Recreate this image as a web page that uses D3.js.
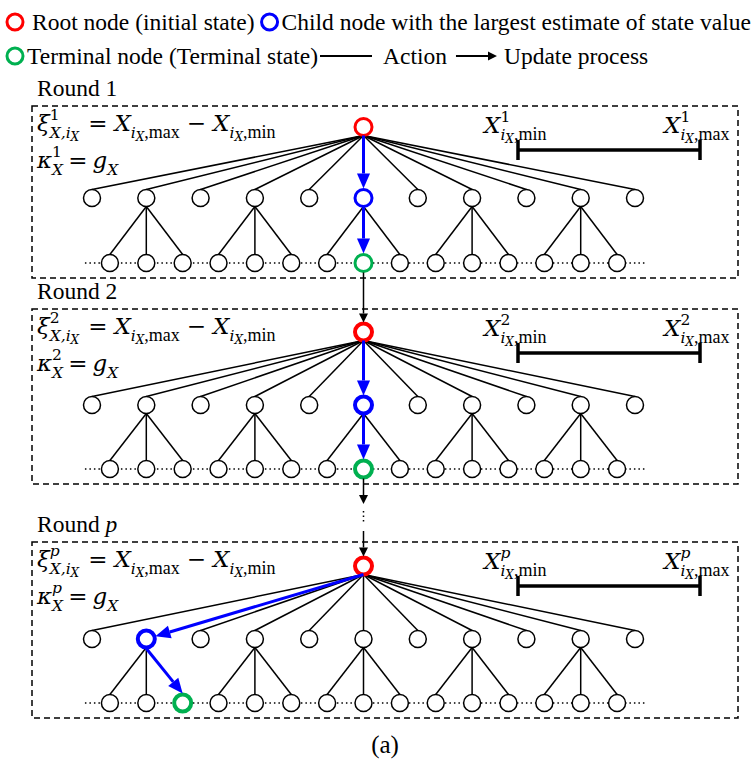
<!DOCTYPE html>
<html>
<head>
<meta charset="utf-8">
<script src="https://cdn.jsdelivr.net/npm/d3@7"></script>
<style>
  body { margin: 0; background: #fff; }
  svg { display: block; }
</style>
</head>
<body>
<svg width="751" height="763"></svg>
<script>
// ---- data ----
const rounds = ['1', '2', 'p'];
const level1 = [0, 1, 2, 3, 4, 5, 6, 7, 8, 9, 10];   // children of the root
const parents = [1, 3, 5, 7, 9];                      // level-1 nodes that are expanded
const childOffsets = [-0.67, 0, 0.67];                // grandchildren around their parent
const bestNode = [5, 5, 1];                           // child with largest estimate, per round
const terminalChild = [1, 1, 2];                      // which grandchild is terminal, per round
const legendRow1 = ['Root node (initial state)', 'Child node with the largest estimate of state value'];
const legendRow2 = ['Terminal node (Terminal state)', 'Action', 'Update process'];

// ---- layout ----
const svg = d3.select('svg');
const RED = '#ff0000', BLUE = '#0000ff', GREEN = '#00b050';
const textFont = '"Liberation Serif", "Times New Roman", serif';
const mathFont = '"DejaVu Serif", serif';
const FS = 23.5;      // text size
const MS = 23, SS = 15.5, SSS = 12;   // math base / script / scriptscript
const r = 8.5;
const boxes = [
  { top: 106, bottom: 278, depth: [127, 198, 263] },
  { top: 309, bottom: 484, depth: [332, 405, 469] },
  { top: 542, bottom: 718, depth: [566, 639, 703] }
];
const xScale = d3.scaleLinear().domain([0, 10]).range([92, 635]);
const rootX = xScale(5);

// arrow = line + filled triangle head
const arrow = (g, x1, y1, x2, y2, color, w, hl, hw) => {
  const a = Math.atan2(y2 - y1, x2 - x1);
  const bx = x2 - hl * Math.cos(a), by = y2 - hl * Math.sin(a);
  g.append('line').attr('x1', x1).attr('y1', y1).attr('x2', bx).attr('y2', by)
    .attr('stroke', color).attr('stroke-width', w);
  const px = -Math.sin(a) * hw, py = Math.cos(a) * hw;
  g.append('path')
    .attr('d', `M${x2},${y2}L${bx + px},${by + py}L${bx - px},${by - py}Z`)
    .attr('fill', color);
};

// math line in one <text>: "stack" starts a subscript under the previous
// superscript, "chain" continues right after the previous piece
const mathLine = (g, x, y, items) => {
  const text = g.append('text').attr('font-family', mathFont);
  let cx = x, stackX = x, last = x;
  items.forEach(it => {
    if (it.gap) { cx += it.gap; last = cx; return; }
    const x0 = it.stack ? stackX : it.chain ? last : cx;
    const ts = text.append('tspan')
      .attr('x', x0).attr('y', y + (it.dy || 0))
      .attr('font-family', it.up ? textFont : mathFont)
      .attr('font-style', it.up || it.plain ? 'normal' : 'italic')
      .attr('font-size', it.s || MS)
      .text(it.t);
    last = x0 + ts.node().getComputedTextLength();
    if (it.stack || it.chain) cx = Math.max(cx, last);
    else { stackX = x0; cx = last; }
  });
  return cx;
};

const sup = k => ({ t: k, s: SS, dy: -11.5, plain: k !== 'p' });
const subIX = (tail, stacked) => [
  { t: 'i', s: SS, dy: 7, stack: stacked },
  { t: 'X', s: SSS, dy: 10, chain: true },
  { t: tail, s: SS + 2.5, dy: 7, up: true, chain: true }
];

// ---- legend ----
const legend = svg.append('g').attr('font-family', textFont).attr('font-size', FS);
const ring = (g, x, y, color, sw, rad) => g.append('circle')
  .attr('cx', x).attr('cy', y).attr('r', rad || r)
  .attr('fill', '#fff').attr('stroke', color).attr('stroke-width', sw);

let lx = 15;
ring(legend, lx, 22, RED, 3, 8);
let t = legend.append('text').attr('x', lx + 17).attr('y', 30).text(legendRow1[0]);
lx = lx + 17 + t.node().getComputedTextLength() + 15;
ring(legend, lx, 22, BLUE, 3, 8);
legend.append('text').attr('x', lx + 12).attr('y', 30).text(legendRow1[1]);

lx = 15;
ring(legend, lx, 56, GREEN, 3, 8);
t = legend.append('text').attr('x', lx + 12).attr('y', 64).text(legendRow2[0]);
lx = lx + 12 + t.node().getComputedTextLength() + 2;
legend.append('line').attr('x1', lx).attr('y1', 56).attr('x2', lx + 52).attr('y2', 56)
  .attr('stroke', '#000').attr('stroke-width', 2);
lx += 63;
t = legend.append('text').attr('x', lx).attr('y', 64).text(legendRow2[1]);
lx += t.node().getComputedTextLength() + 9;
arrow(legend, lx, 56, lx + 41, 56, '#000', 2, 9, 4.5);
legend.append('text').attr('x', lx + 48).attr('y', 64).text(legendRow2[2]);

// ---- rounds ----
rounds.forEach((k, ri) => {
  const box = boxes[ri];
  const y = d3.scaleLinear().domain([0, 1, 2]).range(box.depth);
  const g = svg.append('g');
  const best = bestNode[ri];
  const term = best + childOffsets[terminalChild[ri]];
  const heavy = ri === 0 ? 3 : 4;

  // round title
  const title = g.append('text').attr('x', 37).attr('y', box.top - 10)
    .attr('font-family', textFont).attr('font-size', FS);
  title.append('tspan').text('Round ');
  title.append('tspan').attr('font-style', k === 'p' ? 'italic' : 'normal').text(k);

  // dashed frame
  g.append('rect').attr('x', 32).attr('y', box.top)
    .attr('width', 706).attr('height', box.bottom - box.top)
    .attr('fill', 'none').attr('stroke', '#000').attr('stroke-width', 1.5)
    .attr('stroke-dasharray', '6,4');

  // formulas
  mathLine(g, 37, box.top + 25, [
    { t: 'ξ' }, sup(k), { t: 'X,i', s: SS, dy: 7, stack: true }, { t: 'X', s: SSS, dy: 10, chain: true },
    { gap: 9 }, { t: '=', plain: true }, { gap: 7 },
    { t: 'X' }, ...subIX(',max'),
    { gap: 7 }, { t: '−', plain: true }, { gap: 7 },
    { t: 'X' }, ...subIX(',min')
  ]);
  mathLine(g, 37, box.top + 62, [
    { t: 'κ' }, sup(k), { t: 'X', s: SS, dy: 7, stack: true },
    { gap: 5 }, { t: '=', plain: true }, { gap: 5 },
    { t: 'g' }, { t: 'X', s: SS, dy: 7 }
  ]);

  // value range bar
  const barY = box.top + 44;
  mathLine(g, 484, barY - 17, [{ t: 'X' }, sup(k), ...subIX(',min', true)]);
  mathLine(g, 664, barY - 17, [{ t: 'X' }, sup(k), ...subIX(',max', true)]);
  const bar = g.append('g').attr('stroke', '#000').attr('stroke-width', 3.5);
  bar.append('line').attr('x1', 518).attr('x2', 700).attr('y1', barY).attr('y2', barY);
  [518, 700].forEach(x => bar.append('line')
    .attr('x1', x).attr('x2', x).attr('y1', barY - 10).attr('y2', barY + 10));

  // dotted line through the grandchildren
  const kids = parents.flatMap(p => childOffsets.map(o => p + o));
  g.append('line')
    .attr('x1', xScale(d3.min(kids)) - 25).attr('x2', xScale(d3.max(kids)) + 28)
    .attr('y1', y(2)).attr('y2', y(2))
    .attr('stroke', '#000').attr('stroke-width', 1.5).attr('stroke-dasharray', '1.5,3');

  // edges root -> level 1
  g.selectAll('line.e1').data(level1.filter(i => i !== best)).enter()
    .append('line').attr('class', 'e1')
    .attr('x1', rootX).attr('y1', y(0) + r)
    .attr('x2', d => xScale(d)).attr('y2', y(1) - r)
    .attr('stroke', '#000').attr('stroke-width', 1.5);

  // edges level 1 -> level 2
  const e2 = parents.flatMap(p => childOffsets.map(o => ({ p, c: p + o })))
    .filter(d => !(d.p === best && d.c === term));
  g.selectAll('line.e2').data(e2).enter()
    .append('line').attr('class', 'e2')
    .attr('x1', d => xScale(d.p)).attr('y1', y(1) + r)
    .attr('x2', d => xScale(d.c)).attr('y2', y(2) - r)
    .attr('stroke', '#000').attr('stroke-width', 1.5);

  // nodes
  g.selectAll('circle.n1').data(level1).enter()
    .append('circle').attr('class', 'n1')
    .attr('cx', d => xScale(d)).attr('cy', y(1)).attr('r', r)
    .attr('fill', '#fff')
    .attr('stroke', d => d === best ? BLUE : '#000')
    .attr('stroke-width', d => d === best ? heavy : 1.5);
  g.selectAll('circle.n2').data(kids).enter()
    .append('circle').attr('class', 'n2')
    .attr('cx', d => xScale(d)).attr('cy', y(2)).attr('r', r)
    .attr('fill', '#fff')
    .attr('stroke', d => d === term ? GREEN : '#000')
    .attr('stroke-width', d => d === term ? heavy : 1.5);
  ring(g, rootX, y(0), RED, heavy);

  // blue path: root -> best child -> terminal node
  const bx = xScale(best), by = y(1);
  const sx = rootX, sy = y(0) + r;
  const dist = Math.hypot(sx - bx, sy - by);
  arrow(g, sx, sy, bx + (sx - bx) / dist * (r + 1), by + (sy - by) / dist * (r + 1), BLUE, 3, 15, 6.5);
  arrow(g, bx, by + r + 1, xScale(term), y(2) - r - 1, BLUE, 3, 15, 6.5);
});

// ---- arrows between rounds ----
const link = svg.append('g');
arrow(link, rootX, boxes[0].depth[2] + r + 1, rootX, boxes[1].depth[0] - r - 1, '#000', 1.5, 9, 4.5);
arrow(link, rootX, boxes[1].depth[2] + r + 1, rootX, 504, '#000', 1.5, 9, 4.5);
link.append('line').attr('x1', rootX).attr('x2', rootX).attr('y1', 511).attr('y2', 524)
  .attr('stroke', '#000').attr('stroke-width', 1.5).attr('stroke-dasharray', '1.5,3');
arrow(link, rootX, 531, rootX, boxes[2].depth[0] - r - 1, '#000', 1.5, 9, 4.5);

// caption
svg.append('text').attr('x', 385).attr('y', 753).attr('text-anchor', 'middle')
  .attr('font-family', textFont).attr('font-size', 25).text('(a)');
</script>
</body>
</html>
